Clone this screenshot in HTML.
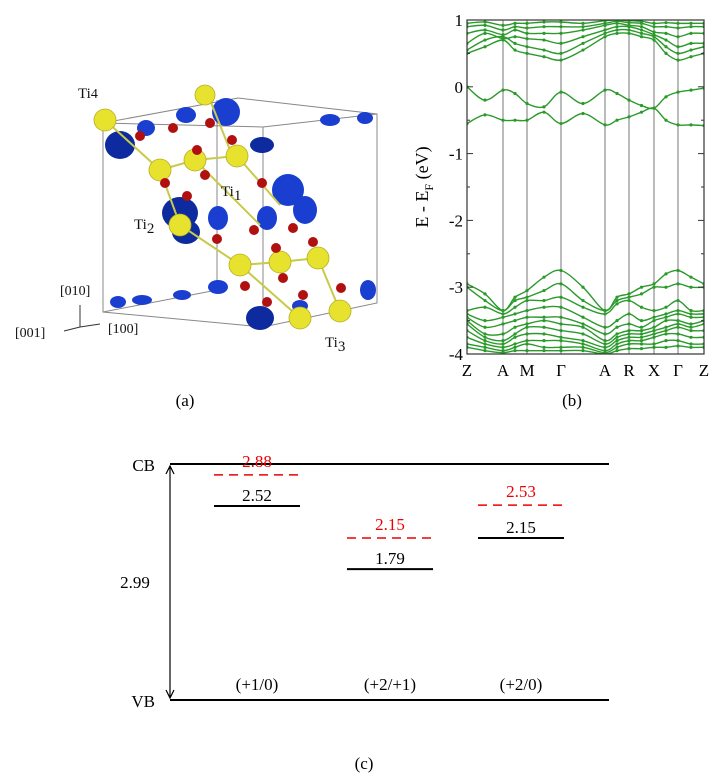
<!DOCTYPE html>
<html><head><meta charset="utf-8"><style>
body{margin:0;background:#fff;width:719px;height:779px;overflow:hidden}
svg{position:absolute;left:0;top:0;font-family:"Liberation Serif",serif}
</style></head><body>
<svg id="fig" width="719" height="779">
<g>
 <g stroke="#888" stroke-width="1" fill="none">
  <polyline points="103,123 238,98 377,114 377,303 263,327 103,312 103,123"/>
  <line x1="103" y1="123" x2="263" y2="127"/><line x1="263" y1="127" x2="377" y2="114"/>
  <line x1="263" y1="127" x2="263" y2="327"/>
  <line x1="217" y1="100" x2="217" y2="290"/><line x1="103" y1="312" x2="217" y2="290"/>
 </g>
 <g fill="#1a3fd0">
  <ellipse cx="120" cy="145" rx="15" ry="14" fill="#0d2a9e"/><ellipse cx="146" cy="128" rx="9" ry="8"/>
  <ellipse cx="186" cy="115" rx="10" ry="8"/><ellipse cx="226" cy="112" rx="14" ry="14"/>
  <ellipse cx="180" cy="213" rx="18" ry="16" fill="#0d2a9e"/><ellipse cx="186" cy="232" rx="14" ry="12" fill="#0d2a9e"/>
  <ellipse cx="218" cy="218" rx="10" ry="12"/><ellipse cx="267" cy="218" rx="10" ry="12"/>
  <ellipse cx="288" cy="190" rx="16" ry="16"/><ellipse cx="305" cy="210" rx="12" ry="14"/>
  <ellipse cx="262" cy="145" rx="12" ry="8" fill="#0d2a9e"/><ellipse cx="330" cy="120" rx="10" ry="6"/>
  <ellipse cx="365" cy="118" rx="8" ry="6"/><ellipse cx="260" cy="318" rx="14" ry="12" fill="#0d2a9e"/>
  <ellipse cx="118" cy="302" rx="8" ry="6"/><ellipse cx="142" cy="300" rx="10" ry="5"/>
  <ellipse cx="182" cy="295" rx="9" ry="5"/><ellipse cx="218" cy="287" rx="10" ry="7"/>
  <ellipse cx="300" cy="306" rx="8" ry="6"/><ellipse cx="368" cy="290" rx="8" ry="10"/>
 </g>
 <g stroke="#c9c94a" stroke-width="2">
  <line x1="105" y1="120" x2="160" y2="170"/><line x1="160" y1="170" x2="195" y2="160"/><line x1="195" y1="160" x2="237" y2="156"/>
  <line x1="160" y1="170" x2="180" y2="225"/><line x1="195" y1="160" x2="260" y2="225"/><line x1="237" y1="156" x2="280" y2="205"/>
  <line x1="180" y1="225" x2="240" y2="265"/><line x1="240" y1="265" x2="280" y2="262"/><line x1="280" y1="262" x2="318" y2="258"/>
  <line x1="240" y1="265" x2="300" y2="318"/><line x1="318" y1="258" x2="340" y2="311"/><line x1="210" y1="100" x2="230" y2="150"/>
 </g>
 <g fill="#e6e22e" stroke="#b5b020" stroke-width="0.8">
  <circle cx="105" cy="120" r="11"/><circle cx="205" cy="95" r="10"/><circle cx="160" cy="170" r="11"/>
  <circle cx="195" cy="160" r="11"/><circle cx="237" cy="156" r="11"/><circle cx="180" cy="225" r="11"/>
  <circle cx="240" cy="265" r="11"/><circle cx="280" cy="262" r="11"/><circle cx="318" cy="258" r="11"/>
  <circle cx="300" cy="318" r="11"/><circle cx="340" cy="311" r="11"/>
 </g>
 <g fill="#b01010">
  <circle cx="140" cy="136" r="5"/><circle cx="173" cy="128" r="5"/><circle cx="210" cy="123" r="5"/><circle cx="232" cy="140" r="5"/>
  <circle cx="197" cy="150" r="5"/><circle cx="165" cy="183" r="5"/><circle cx="205" cy="175" r="5"/><circle cx="187" cy="196" r="5"/>
  <circle cx="262" cy="183" r="5"/><circle cx="254" cy="230" r="5"/><circle cx="293" cy="228" r="5"/><circle cx="217" cy="239" r="5"/>
  <circle cx="276" cy="248" r="5"/><circle cx="313" cy="242" r="5"/><circle cx="245" cy="286" r="5"/><circle cx="283" cy="278" r="5"/>
  <circle cx="341" cy="288" r="5"/><circle cx="303" cy="295" r="5"/><circle cx="267" cy="302" r="5"/>
 </g>
 <g font-size="15" fill="#111">
  <text x="78" y="98">Ti<tspan font-size="14">4</tspan></text>
  <text x="221" y="196">Ti<tspan dy="4">1</tspan></text>
  <text x="134" y="229">Ti<tspan dy="4">2</tspan></text>
  <text x="325" y="347">Ti<tspan dy="4">3</tspan></text>
  <text x="60" y="295" font-size="14">[010]</text>
  <text x="15" y="337" font-size="14">[001]</text>
  <text x="108" y="333" font-size="14">[100]</text>
 </g>
 <g stroke="#333" stroke-width="1" fill="none">
  <line x1="80" y1="327" x2="80" y2="305"/><line x1="80" y1="327" x2="100" y2="324"/><line x1="80" y1="327" x2="64" y2="331"/>
 </g>
 <text x="185" y="406" font-size="17" text-anchor="middle">(a)</text>
</g>

<g id="bands"></g>
<text x="572" y="406" font-size="17" text-anchor="middle">(b)</text>

<g id="levels"></g>
<text x="364" y="769" font-size="17" text-anchor="middle">(c)</text>
</svg>
<script>
const NS="http://www.w3.org/2000/svg";
const kLabels=["Z","A","M","Γ","A","R","X","Γ","Z"];
const kDist=[0,36,60,94,138,162,187,211,237];
const yTicks=[1,0,-1,-2,-3,-4];
const gapBands=[
 [-0.0,-0.2,-0.05,-0.1,-0.25,-0.3,-0.08,-0.25,-0.05,-0.1,-0.2,-0.28,-0.32,-0.15,-0.08,-0.05,-0.02],
 [-0.55,-0.42,-0.5,-0.5,-0.5,-0.38,-0.55,-0.4,-0.57,-0.5,-0.45,-0.38,-0.32,-0.5,-0.57,-0.57,-0.58]];
const condBands=[
 [0.5,0.6,0.7,0.55,0.5,0.45,0.4,0.55,0.75,0.8,0.8,0.75,0.7,0.5,0.4,0.45,0.5],
 [0.55,0.7,0.75,0.65,0.6,0.55,0.5,0.65,0.8,0.85,0.85,0.8,0.75,0.6,0.5,0.55,0.6],
 [0.65,0.8,0.72,0.75,0.72,0.7,0.65,0.75,0.85,0.9,0.9,0.85,0.78,0.7,0.6,0.65,0.65],
 [0.8,0.85,0.78,0.85,0.8,0.8,0.8,0.85,0.92,0.95,0.92,0.9,0.82,0.8,0.75,0.8,0.8],
 [0.9,0.92,0.85,0.9,0.88,0.9,0.9,0.9,0.95,0.98,0.96,0.95,0.9,0.9,0.88,0.9,0.9],
 [0.95,0.97,0.92,0.95,0.95,0.97,0.97,0.95,0.99,1.0,0.99,0.98,0.95,0.96,0.95,0.95,0.95]];
const valBands=[
 [-2.95,-3.1,-3.35,-3.15,-3.05,-2.85,-2.75,-3.0,-3.35,-3.15,-3.1,-3.0,-2.95,-2.8,-2.75,-2.85,-2.95],
 [-3.0,-3.2,-3.35,-3.2,-3.15,-3.05,-2.95,-3.2,-3.35,-3.2,-3.15,-3.1,-3.0,-3.0,-2.95,-3.0,-3.0],
 [-3.35,-3.3,-3.4,-3.3,-3.2,-3.2,-3.15,-3.3,-3.4,-3.25,-3.2,-3.3,-3.35,-3.3,-3.2,-3.35,-3.35],
 [-3.4,-3.5,-3.45,-3.4,-3.35,-3.3,-3.3,-3.45,-3.6,-3.5,-3.4,-3.5,-3.45,-3.4,-3.35,-3.4,-3.4],
 [-3.45,-3.6,-3.55,-3.5,-3.45,-3.45,-3.45,-3.55,-3.7,-3.6,-3.55,-3.6,-3.5,-3.45,-3.4,-3.45,-3.45],
 [-3.5,-3.7,-3.7,-3.6,-3.55,-3.5,-3.55,-3.6,-3.8,-3.7,-3.65,-3.65,-3.6,-3.5,-3.5,-3.55,-3.5],
 [-3.55,-3.75,-3.8,-3.7,-3.6,-3.6,-3.65,-3.7,-3.85,-3.75,-3.7,-3.7,-3.65,-3.6,-3.55,-3.6,-3.55],
 [-3.65,-3.8,-3.85,-3.75,-3.7,-3.7,-3.75,-3.8,-3.9,-3.8,-3.75,-3.75,-3.7,-3.65,-3.6,-3.65,-3.65],
 [-3.75,-3.85,-3.9,-3.85,-3.8,-3.8,-3.8,-3.85,-3.95,-3.85,-3.8,-3.8,-3.75,-3.7,-3.7,-3.75,-3.75],
 [-3.85,-3.9,-3.95,-3.9,-3.85,-3.9,-3.9,-3.9,-3.98,-3.9,-3.85,-3.85,-3.85,-3.8,-3.8,-3.85,-3.85],
 [-3.9,-3.95,-3.98,-3.95,-3.95,-3.95,-3.95,-3.95,-4.0,-3.95,-3.92,-3.92,-3.9,-3.9,-3.88,-3.9,-3.9]];
const gapValue=2.99;
const transitions=["(+1/0)","(+2/+1)","(+2/0)"];
const levelsBlack=[2.52,1.79,2.15];
const levelsRed=[2.88,2.15,2.53];

const P={l:467,r:704,t:20,b:354,ymin:-4,ymax:1};
const xs=k=>P.l+k/kDist[kDist.length-1]*(P.r-P.l);
const ys=e=>P.b-(e-P.ymin)/(P.ymax-P.ymin)*(P.b-P.t);
function mk(tag,attrs,parent){const e=document.createElementNS(NS,tag);for(const a in attrs)e.setAttribute(a,attrs[a]);parent.appendChild(e);return e;}
const g=document.getElementById('bands');
const sampleK=[];
for(let i=0;i<kDist.length;i++){sampleK.push(kDist[i]);if(i<kDist.length-1)sampleK.push((kDist[i]+kDist[i+1])/2);}
kDist.slice(1,-1).forEach((k,i)=>{const l=mk('line',{x1:xs(k),x2:xs(k),y1:P.t,y2:P.b,stroke:'#777','stroke-width':1},g);

});
function smooth(pts){let d=`M${pts[0][0]},${pts[0][1]}`;for(let i=0;i<pts.length-1;i++){const p0=pts[Math.max(0,i-1)],p1=pts[i],p2=pts[i+1],p3=pts[Math.min(pts.length-1,i+2)];
const c1=[p1[0]+(p2[0]-p0[0])/6,p1[1]+(p2[1]-p0[1])/6],c2=[p2[0]-(p3[0]-p1[0])/6,p2[1]-(p3[1]-p1[1])/6];d+=`C${c1[0]},${c1[1]} ${c2[0]},${c2[1]} ${p2[0]},${p2[1]}`;}return d;}
const clip=mk('clipPath',{id:'pc'},g);mk('rect',{x:P.l,y:P.t,width:P.r-P.l,height:P.b-P.t},clip);
const bg=mk('g',{'clip-path':'url(#pc)'},g);
[...condBands,...gapBands,...valBands].forEach(b=>{const pts=b.map((e,i)=>[xs(sampleK[i]),ys(e)]);
const p=mk('path',{d:smooth(pts),fill:'none',stroke:'#2a9a2a','stroke-width':1.4},bg);


pts.forEach(q=>{const c=mk('circle',{cx:q[0],cy:q[1],r:1.6,fill:'#2a9a2a'},bg);

});});
const fr=mk('rect',{x:P.l,y:P.t,width:P.r-P.l,height:P.b-P.t,fill:'none',stroke:'#333','stroke-width':1.2},g);


for(let e=P.ymin;e<=P.ymax;e+=0.5){const len=Number.isInteger(e)?6:3;
mk('line',{x1:P.l,x2:P.l+len,y1:ys(e),y2:ys(e),stroke:'#333'},g);mk('line',{x1:P.r,x2:P.r-len,y1:ys(e),y2:ys(e),stroke:'#333'},g);}
yTicks.forEach(t=>{const tx=mk('text',{x:P.l-4,y:ys(t)+6,'text-anchor':'end','font-size':17},g);tx.textContent=t;

});
kLabels.forEach((s,i)=>{const tx=mk('text',{x:xs(kDist[i]),y:376,'text-anchor':'middle','font-size':17},g);tx.textContent=s;

});
const yl=mk('text',{x:0,y:0,'font-size':18,'text-anchor':'middle',transform:`translate(428,${(P.t+P.b)/2}) rotate(-90)`},g);
yl.innerHTML='E - E<tspan font-size="12" dy="5">F</tspan><tspan dy="-5"> (eV)</tspan>';



const L=document.getElementById('levels');
const vbY=700,cbY=464,lx0=170,lx1=609;
const ey=e=>724-e*86.5;
const cols=[257,390,521],hw=43;
const cb=mk('line',{x1:lx0,x2:lx1,y1:cbY,y2:cbY,stroke:'#000','stroke-width':2},L);

const vb=mk('line',{x1:lx0,x2:lx1,y1:vbY,y2:vbY,stroke:'#000','stroke-width':2},L);

const t1=mk('text',{x:155,y:471,'text-anchor':'end','font-size':17},L);t1.textContent='CB';

const t2=mk('text',{x:155,y:707,'text-anchor':'end','font-size':17},L);t2.textContent='VB';

const ar=mk('path',{d:`M170,${cbY+2}V${vbY-2}M166,${cbY+10}L170,${cbY+2}L174,${cbY+10}M166,${vbY-10}L170,${vbY-2}L174,${vbY-10}`,stroke:'#000',fill:'none','stroke-width':1.2},L);

const gt=mk('text',{x:135,y:(cbY+vbY)/2+6,'text-anchor':'middle','font-size':17},L);gt.textContent=gapValue.toFixed(2);

transitions.forEach((s,i)=>{
 const yb=ey(levelsBlack[i]),yr=ey(levelsRed[i]);
 const b=mk('line',{x1:cols[i]-hw,x2:cols[i]+hw,y1:yb,y2:yb,stroke:'#000','stroke-width':2},L);
 
 const bt=mk('text',{x:cols[i],y:yb-5,'text-anchor':'middle','font-size':17},L);bt.textContent=levelsBlack[i].toFixed(2);
 
 const r=mk('line',{x1:cols[i]-hw,x2:cols[i]+hw,y1:yr,y2:yr,stroke:'#e00','stroke-width':1.5,'stroke-dasharray':'9,6'},L);
 
 const rt=mk('text',{x:cols[i],y:yr-8,'text-anchor':'middle','font-size':17,fill:'#e00'},L);rt.textContent=levelsRed[i].toFixed(2);
 
 const tt=mk('text',{x:cols[i],y:690,'text-anchor':'middle','font-size':17},L);tt.textContent=s;
 
});
</script>
</body></html>
